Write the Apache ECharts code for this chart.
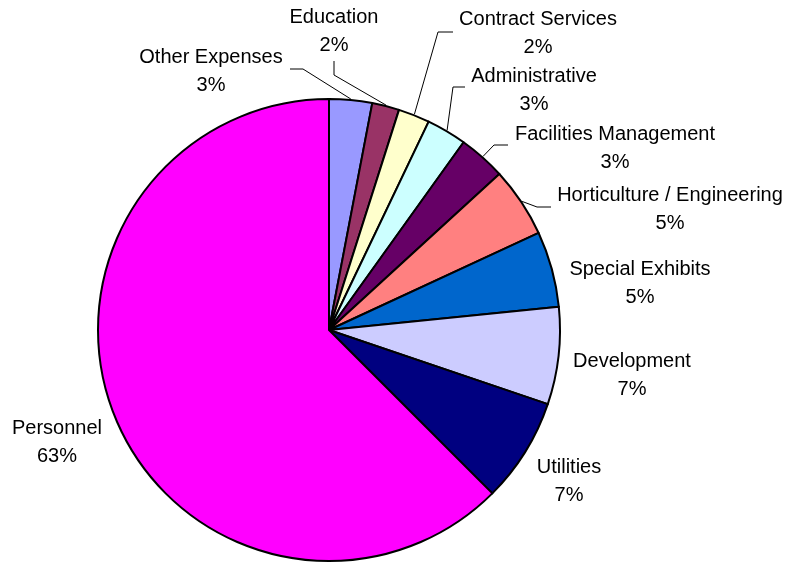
<!DOCTYPE html>
<html>
<head>
<meta charset="utf-8">
<script src="https://cdn.jsdelivr.net/npm/echarts@6/dist/echarts.min.js"></script>
<style>
html,body{margin:0;padding:0;background:#fff;}
#chart{width:791px;height:565px;}
</style>
</head>
<body>
<div id="chart"></div>
<script>
// ---- data ----
var categories = ['Other Expenses','Education','Contract Services','Administrative','Facilities Management','Horticulture / Engineering','Special Exhibits','Development','Utilities','Personnel'];
var values = [3.0, 1.9, 2.2, 2.8, 3.3, 4.9, 5.3, 6.8, 7.3, 62.5];
var colors = ['#9999FF','#993366','#FFFFCC','#CCFFFF','#660066','#FF8080','#0066CC','#CCCCFF','#000080','#FF00FF'];

// ---- layout (label anchors, leader line bends) ----
var CX = 329, CY = 330, R = 231;
var labelLayoutTable = [
  {x:211, y:71,  line:[[303,69],[290,69]]},
  {x:334, y:31,  line:[[334,75],[334,61]]},
  {x:538, y:33,  line:[[438,32],[453,32]]},
  {x:534, y:90,  line:[[453,87],[465,87]]},
  {x:615, y:148, line:[[494,145],[508,145]]},
  {x:670, y:209, line:[[537,207],[551,207]]},
  {x:640, y:283, line:null},
  {x:632, y:375, line:null},
  {x:569, y:481, line:null},
  {x:57,  y:442, line:null}
];

var total = values.reduce(function(a,b){return a+b;},0);
var cum = 0;
var midAngles = values.map(function(v){ var m = (cum + v/2)/total*360; cum += v; return m; });

var chart = echarts.init(document.getElementById('chart'), null, {renderer:'canvas'});
chart.setOption({
  animation:false,
  series:[{
    type:'pie',
    center:[CX, CY],
    radius:[0, R],
    startAngle:90,
    clockwise:true,
    avoidLabelOverlap:false,
    data: categories.map(function(c,i){
      return {
        name:c, value:values[i],
        itemStyle:{color:colors[i]},
        labelLine:{show: !!labelLayoutTable[i].line}
      };
    }),
    itemStyle:{borderColor:'#000', borderWidth:2},
    label:{
      show:true,
      position:'outside',
      color:'#000',
      fontFamily:'Liberation Sans, Arial, sans-serif',
      fontSize:20,
      lineHeight:28,
      align:'center',
      formatter:function(p){ return p.name + '\n' + Math.round(p.value/total*100) + '%'; }
    },
    labelLine:{lineStyle:{color:'#000', width:1}, length:10, length2:10},
    emphasis:{disabled:true},
    labelLayout:function(params){
      var i = params.dataIndex;
      var L = labelLayoutTable[i];
      var a = midAngles[i]*Math.PI/180;
      var edge = [CX + (R+1)*Math.sin(a), CY - (R+1)*Math.cos(a)];
      var out = {x:L.x, y:L.y, align:'center', verticalAlign:'middle'};
      if (L.line) out.labelLinePoints = [edge, L.line[0], L.line[1]];
      return out;
    }
  }]
});
</script>
</body>
</html>
